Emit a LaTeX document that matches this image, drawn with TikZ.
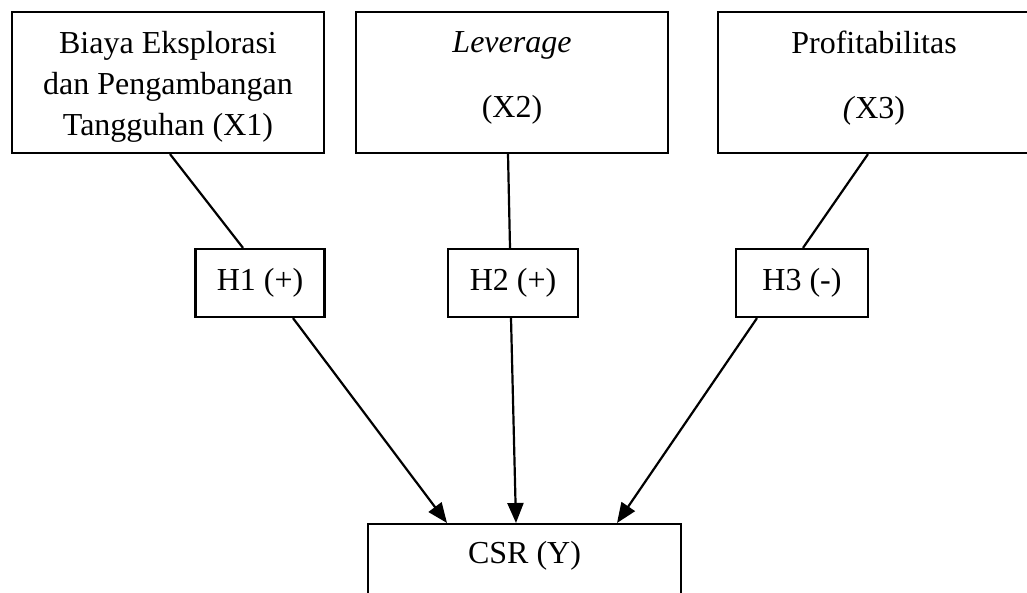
\documentclass[tikz,border=0pt]{standalone}
\usepackage{fontspec}
\setmainfont{Liberation Serif}
\usetikzlibrary{arrows.meta}
\begin{document}
\begin{tikzpicture}[x=0.5pt,y=-0.5pt,line width=1.1pt,
  box/.style={draw, inner sep=0pt, align=center, font=\fontsize{16pt}{20.5pt}\selectfont},
  lbl/.style={inner sep=0pt, align=center, font=\fontsize{16pt}{20.5pt}\selectfont},
  arr/.style={-{Triangle[length=10pt,width=8pt]}}]
\useasboundingbox (0,0) rectangle (1027,593);
\clip (0,0) rectangle (1027,593);
% top boxes
\node[box, minimum width=156pt, minimum height=70.5pt] (x1) at (168,82.5) {};
\node[lbl] (x1t) at (168,86.5) {Biaya Eksplorasi\\dan Pengambangan\\Tangguhan (X1)};
\node[box, minimum width=156pt, minimum height=70.5pt] (x2) at (512,82.5) {};
\node[lbl] (x2t) at (512,78) {\textit{Leverage}\\[12pt](X2)};
\node[box, minimum width=156pt, minimum height=70.5pt] (x3) at (874,82.5) {};
\node[lbl] (x3t) at (874,78) {Profitabilitas\\[12pt]\textit{(}X3)};
% hypothesis boxes
\node[box, minimum width=64.5pt, minimum height=34pt] (h1) at (260,283) {H1 (+)};
\node[box, minimum width=65pt, minimum height=34pt] (h2) at (513,283) {H2 (+)};
\node[box, minimum width=66pt, minimum height=34pt] (h3) at (802,283) {H3 (-)};
% dependent box (cut off at the bottom)
\node[draw, minimum width=156.5pt, minimum height=60pt, anchor=north] (y) at (524.5,523) {};
\node[lbl] (yt) at (524.5,556) {CSR (Y)};
% connectors
\draw (x1.south -| 170,0) -- (h1.north -| 243,0);
\draw (x2.south -| 508,0) -- (h2.north -| 510,0);
\draw (x3.south -| 868,0) -- (h3.north -| 803,0);
\draw[arr] (h1.south -| 293,0) -- (y.north -| 447,0);
\draw[arr] (h2.south -| 511,0) -- (y.north -| 516,0);
\draw[arr] (h3.south -| 757,0) -- (y.north -| 617,0);
\end{tikzpicture}
\end{document}
